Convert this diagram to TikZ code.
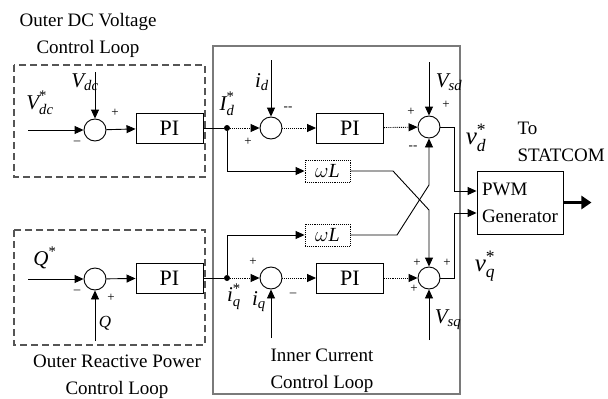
\documentclass[tikz,border=0pt]{standalone}
\usepackage{amsmath}
\usepackage{fontspec}
\setmainfont{Liberation Serif}
\usepackage{tikz}
\usetikzlibrary{positioning,arrows.meta,calc}
\definecolor{FrameGray}{HTML}{555555}
\definecolor{InnerGray}{HTML}{7A7A7A}
\tikzset{
  sumnode/.style={draw,circle,minimum size=22pt,inner sep=0pt,line width=0.9pt},
  piblock/.style={draw,minimum width=67pt,minimum height=30pt,inner sep=0pt,font=\fontsize{22}{24}\selectfont,line width=0.9pt},
  wlblock/.style={draw,densely dotted,minimum width=45pt,minimum height=22pt,inner sep=0pt,font=\fontsize{20}{22}\selectfont\itshape,line width=0.9pt},
  pwmblock/.style={draw,minimum width=86pt,minimum height=63pt,inner sep=5pt,text width=76pt,align=left,font=\fontsize{19}{27}\selectfont,line width=0.9pt},
  junction/.style={circle,fill,inner sep=0pt,minimum size=6pt},
  loopframe/.style={draw=FrameGray,dash pattern=on 7pt off 4pt,line width=1.3pt},
  innerframe/.style={draw=InnerGray,line width=1.3pt},
  sigflow/.style={-{Triangle[length=9pt,width=8pt]},line width=0.9pt},
  dotflow/.style={sigflow,densely dotted},
  boldflow/.style={-{Triangle[length=10pt,width=13pt]},line width=3pt},
  looptitle/.style={align=center,font=\fontsize{19}{27}\selectfont},
  mlabel/.style={inner sep=0pt,font=\fontsize{21}{23}\selectfont},
  biglabel/.style={inner sep=0pt,font=\fontsize{25}{27}\selectfont},
  signlbl/.style={inner sep=0pt,font=\fontsize{13}{13}\selectfont}
}
\begin{document}
\begin{tikzpicture}[x=1pt,y=-1pt]
  \useasboundingbox (0,0) rectangle (608,399);
  \draw[loopframe] (14,65) rectangle (205,177);
  \draw[loopframe] (14,230) rectangle (205,345);
  \draw[innerframe] (213,46) rectangle (460,394);

  \node[looptitle] (tdc) at (88,35) {Outer DC Voltage\\Control Loop};
  \node[looptitle] (tq) at (117,377) {Outer Reactive Power\\Control Loop};
  \node[looptitle] (tin) at (322,371) {Inner Current\\Control Loop};
  \node[looptitle,align=left,anchor=west] (tstat) at (514,142) {To\\STATCOM};

  \node[sumnode] (sdc) at (95,130) {};
  \node[piblock] (pidc) at (169.5,128) {PI};
  \node[sumnode] (sq) at (95,279) {};
  \node[piblock] (piq) at (169.5,278) {PI};
  \node[junction] (jd) at (227,128) {};
  \node[junction] (jq) at (227,278) {};
  \node[sumnode] (sid) at (271,128) {};
  \node[piblock] (piid) at (350,128) {PI};
  \node[sumnode] (svd) at (429,127) {};
  \node[sumnode] (siq) at (271,278) {};
  \node[piblock] (piiq) at (350,278) {PI};
  \node[sumnode] (svq) at (429,278) {};
  \node[wlblock] (wld) at (327.5,171) {$\omega$L};
  \node[wlblock] (wlq) at (327.5,235) {$\omega$L};
  \node[pwmblock] (pwm) at (520,202.5) {PWM\\Generator};

  \coordinate (vdcin) at (28,130);
  \coordinate (vdctop) at (95,72);
  \coordinate (qin) at (28,279);
  \coordinate (qbot) at (95,341);
  \coordinate (idtop) at (271,60);
  \coordinate (iqbot) at (271,338);
  \coordinate (vsdtop) at (429,62);
  \coordinate (vsqbot) at (429,340);
  \coordinate (xd1) at (393,171);
  \coordinate (xd2) at (429,210);
  \coordinate (xq1) at (397,235);
  \coordinate (xq2) at (429,185);

  \draw[sigflow] (vdcin) -- (sdc);
  \draw[sigflow] (vdctop) -- (sdc);
  \draw[sigflow] (sdc) -- (pidc);
  \draw[line width=0.9pt] (pidc) -- (jd);
  \draw[dotflow] (jd) -- (sid);
  \draw[sigflow] (idtop) -- (sid);
  \draw[dotflow] (sid) -- (piid);
  \draw[dotflow] (piid) -- (svd);
  \draw[sigflow] (vsdtop) -- (svd);
  \draw[sigflow] (jd) |- (wld);
  \draw[sigflow] (wld) -- (xd1) -- (xd2) -- (svq);

  \draw[sigflow] (qin) -- (sq);
  \draw[sigflow] (qbot) -- (sq);
  \draw[sigflow] (sq) -- (piq);
  \draw[line width=0.9pt] (piq) -- (jq);
  \draw[dotflow] (jq) -- (siq);
  \draw[sigflow] (iqbot) -- (siq);
  \draw[dotflow] (siq) -- (piiq);
  \draw[dotflow] (piiq) -- (svq);
  \draw[sigflow] (vsqbot) -- (svq);
  \draw[sigflow] (jq) |- (wlq);
  \draw[sigflow] (wlq) -- (xq1) -- (xq2) -- (svd);

  \draw[sigflow] (svd.east) -- ++(14,0) |- ($(pwm.west)+(0,-11.5)$);
  \draw[sigflow] (svq.east) -- ++(14,0) |- ($(pwm.west)+(0,10.5)$);
  \draw[boldflow] (pwm.east) -- ++(28,0);

  \node[mlabel] (lvdc) at (85,82) {$\textit{V}_{\textit{dc}}$};
  \node[mlabel] (lvdcs) at (40,103) {$\textit{V}^{\textrm{*}}_{\textit{dc}}$};
  \node[mlabel] (lqs) at (45,258) {$\textit{Q}^{\textrm{*}}$};
  \node[inner sep=0pt,font=\fontsize{17}{19}\selectfont] (lq) at (105,323) {$\textit{Q}$};
  \node[mlabel] (lids) at (227,104) {$\textit{I}^{\textrm{*}}_{\textit{d}}$};
  \node[mlabel] (lid) at (262,82) {$\textit{i}_{\textit{d}}$};
  \node[mlabel] (liqs) at (234,297) {$\textit{i}^{\textrm{*}}_{\textit{q}}$};
  \node[mlabel] (liq) at (259,302) {$\textit{i}_{\textit{q}}$};
  \node[mlabel] (lvsd) at (449,82) {$\textit{V}_{\textit{sd}}$};
  \node[mlabel] (lvsq) at (448,320) {$\textit{V}_{\textit{sq}}$};
  \node[biglabel] (lvd) at (476,138) {$\textit{v}^{\textrm{*}}_{\textit{d}}$};
  \node[biglabel] (lvq) at (485,266) {$\textit{v}^{\textrm{*}}_{\textit{q}}$};

  \node[signlbl] at (115,113) {+};
  \node[signlbl] at (77,143) {--};
  \node[signlbl] at (77,292) {--};
  \node[signlbl] at (111,298) {+};
  \node[signlbl] at (288,109) {-{}-};
  \node[signlbl] at (248,142) {+};
  \node[signlbl] at (411,112) {+};
  \node[signlbl] at (446,105) {+};
  \node[signlbl] at (413,148) {-{}-};
  \node[signlbl] at (253,262) {+};
  \node[signlbl] at (293,295) {--};
  \node[signlbl] at (417,263) {+};
  \node[signlbl] at (447,263) {+};
  \node[signlbl] at (414,289) {+};
\end{tikzpicture}
\end{document}
